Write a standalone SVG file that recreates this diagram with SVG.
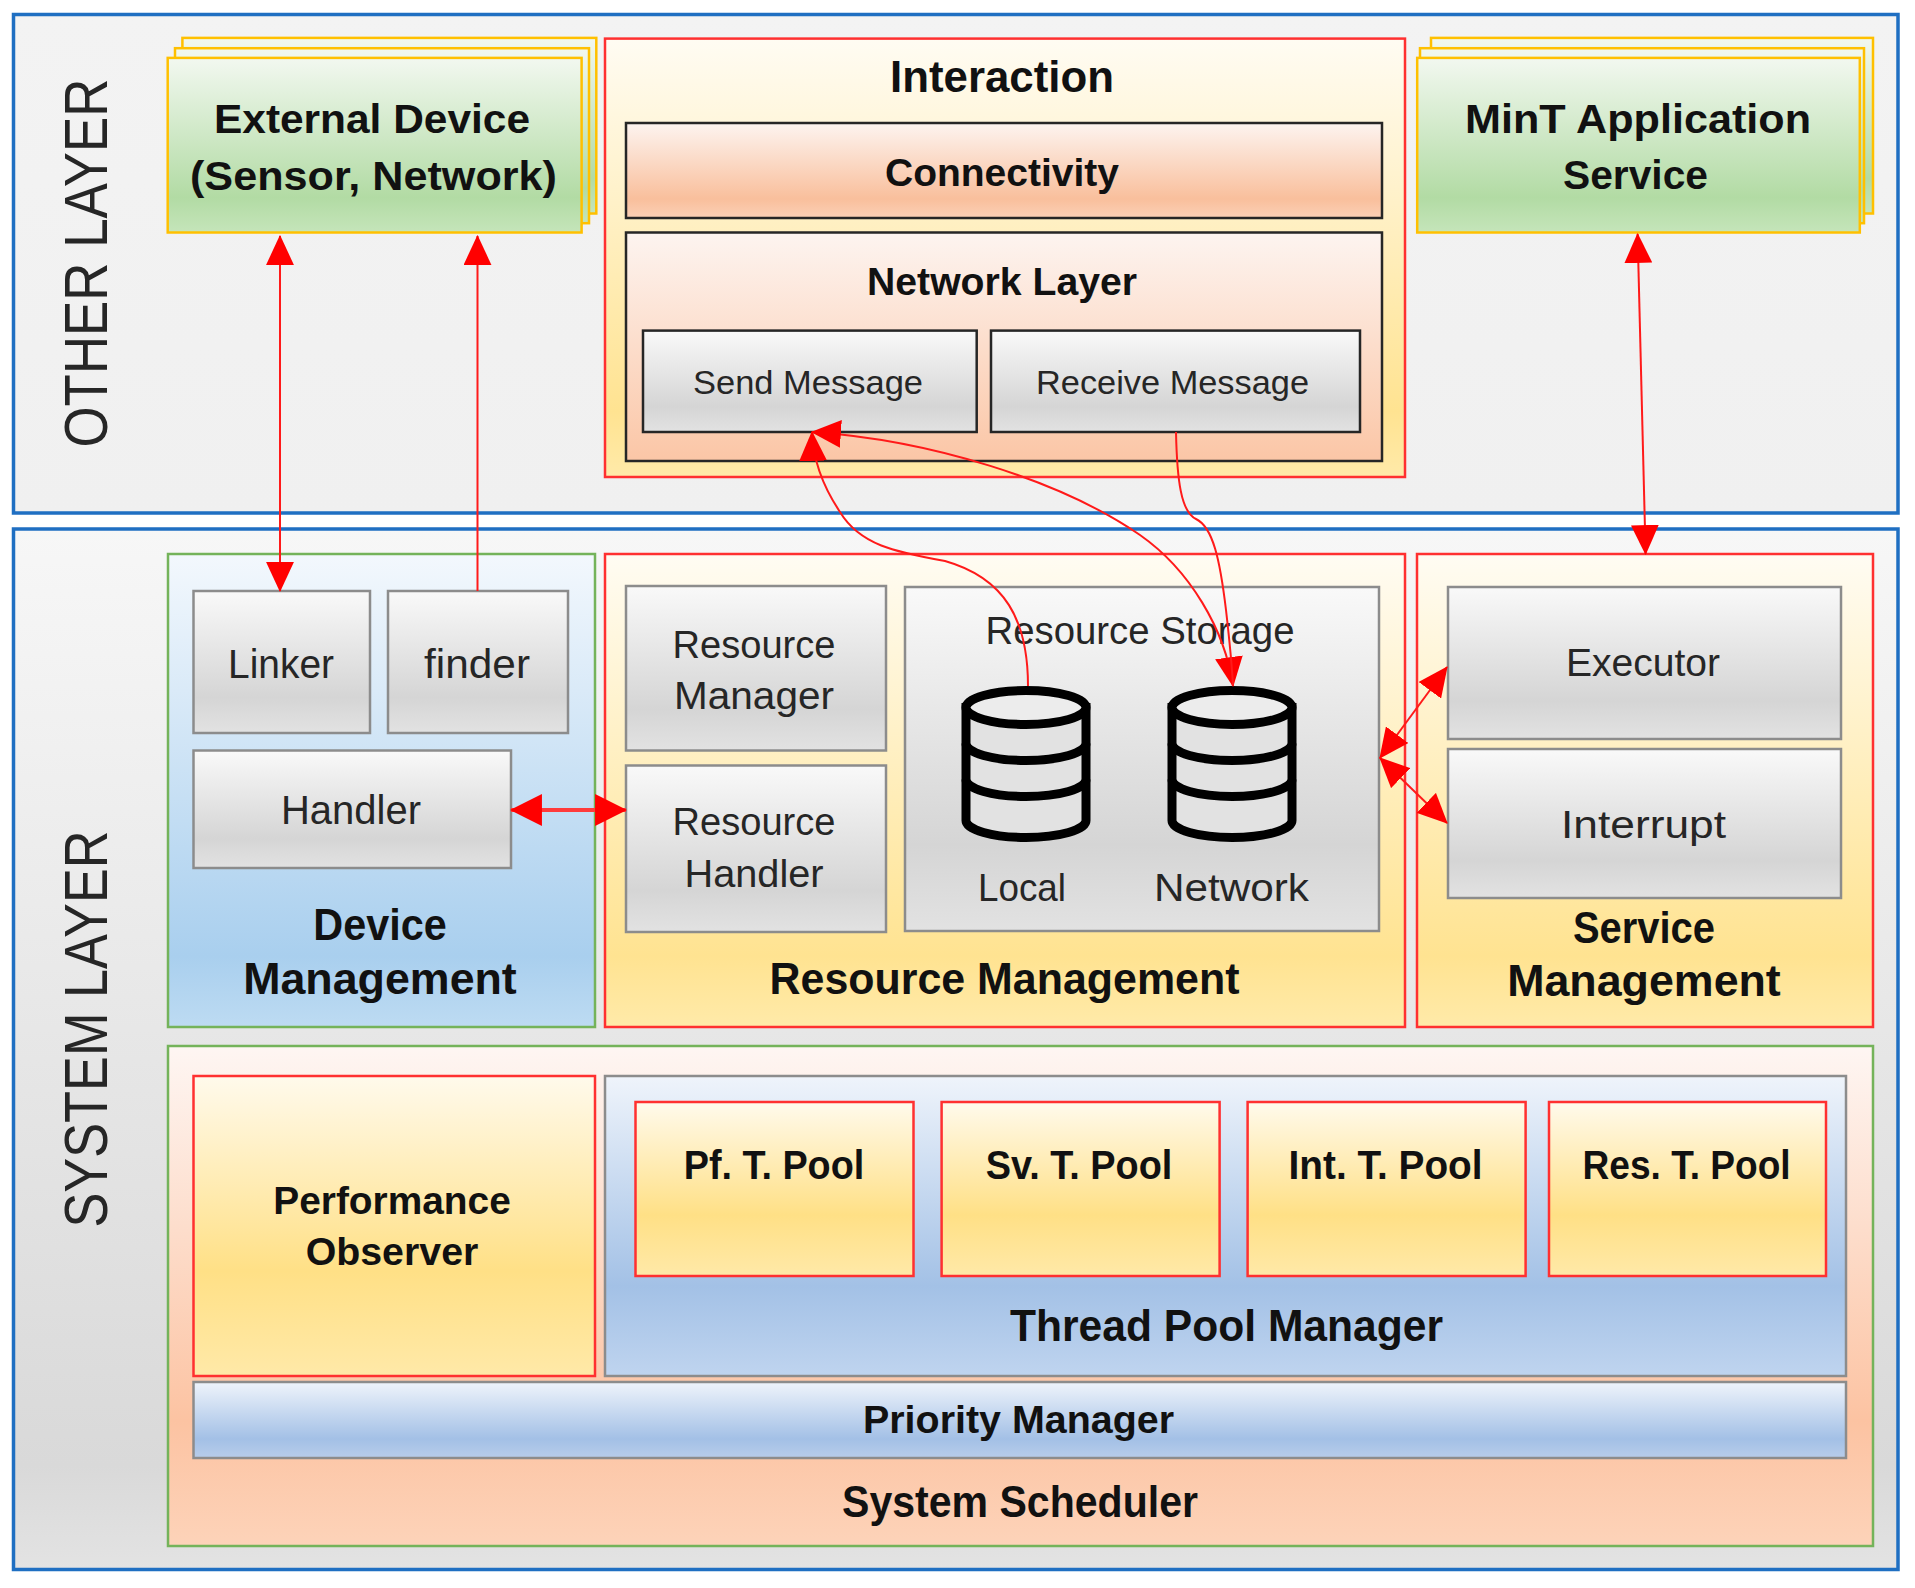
<svg xmlns="http://www.w3.org/2000/svg" width="1915" height="1588" viewBox="0 0 1915 1588">
<defs>
<style>
.t{font-family:"Liberation Sans",Arial,sans-serif;text-anchor:middle}
.b{font-weight:bold;fill:#111}
.r{fill:#262626}
.lay{stroke:#1f6fc2;stroke-width:3.5}
.red{stroke:#ff3030;stroke-width:2.5}
.grn{stroke:#74b35a;stroke-width:2.5}
.gld{stroke:#ffc000;stroke-width:2.5}
.gry{stroke:#8c8c8c;stroke-width:2.5}
.dk{stroke:#262626;stroke-width:2.5}
.con{fill:none;stroke:#ff1a1a;stroke-width:2}
</style>
<linearGradient id="gOther" x1="0" y1="0" x2="0" y2="1"><stop offset="0" stop-color="#f3f3f3"/><stop offset="1" stop-color="#f0f0f0"/></linearGradient>
<linearGradient id="gSys" x1="0" y1="0" x2="0" y2="1"><stop offset="0" stop-color="#f7f7f7"/><stop offset="0.9" stop-color="#d9d9d9"/><stop offset="1" stop-color="#e3e3e3"/></linearGradient>
<linearGradient id="gGreen" x1="0" y1="0" x2="0" y2="1"><stop offset="0" stop-color="#f2f8f0"/><stop offset="0.8" stop-color="#b2dba4"/><stop offset="1" stop-color="#c5e5ba"/></linearGradient>
<linearGradient id="gYel" x1="0" y1="0" x2="0" y2="1"><stop offset="0" stop-color="#fffcf3"/><stop offset="0.85" stop-color="#ffe391"/><stop offset="1" stop-color="#ffeaa9"/></linearGradient>
<linearGradient id="gConn" x1="0" y1="0" x2="0" y2="1"><stop offset="0" stop-color="#fdf4f0"/><stop offset="0.8" stop-color="#f9bf9c"/><stop offset="1" stop-color="#fbd0b6"/></linearGradient>
<linearGradient id="gNet" x1="0" y1="0" x2="0" y2="1"><stop offset="0" stop-color="#fdf4f0"/><stop offset="1" stop-color="#fbc6a6"/></linearGradient>
<linearGradient id="gGray" x1="0" y1="0" x2="0" y2="1"><stop offset="0" stop-color="#f9f9f9"/><stop offset="0.75" stop-color="#d5d5d5"/><stop offset="1" stop-color="#e2e2e2"/></linearGradient>
<linearGradient id="gBlue" x1="0" y1="0" x2="0" y2="1"><stop offset="0" stop-color="#f3f8fd"/><stop offset="0.85" stop-color="#a9cfee"/><stop offset="1" stop-color="#bddbf2"/></linearGradient>
<linearGradient id="gSched" x1="0" y1="0" x2="0" y2="1"><stop offset="0" stop-color="#fef6f3"/><stop offset="0.75" stop-color="#fcc3a2"/><stop offset="1" stop-color="#fdd3b9"/></linearGradient>
<linearGradient id="gTpm" x1="0" y1="0" x2="0" y2="1"><stop offset="0" stop-color="#eff4fb"/><stop offset="0.7" stop-color="#a3c1e6"/><stop offset="1" stop-color="#bfd4ef"/></linearGradient>
<linearGradient id="gPrio" x1="0" y1="0" x2="0" y2="1"><stop offset="0" stop-color="#eff4fb"/><stop offset="0.75" stop-color="#a3c0e6"/><stop offset="1" stop-color="#b8cdea"/></linearGradient>
<linearGradient id="gPool" x1="0" y1="0" x2="0" y2="1"><stop offset="0" stop-color="#fffaec"/><stop offset="0.65" stop-color="#ffe086"/><stop offset="1" stop-color="#ffe9a8"/></linearGradient>
<marker id="arr" markerUnits="userSpaceOnUse" markerWidth="30" markerHeight="28" viewBox="0 0 28 26" refX="27" refY="13" orient="auto-start-reverse"><path d="M0,0 L28,13 L0,26 z" fill="#ff0000"/></marker>
<marker id="arrB" markerUnits="userSpaceOnUse" markerWidth="32" markerHeight="32" viewBox="0 0 30 30" refX="29" refY="15" orient="auto-start-reverse"><path d="M0,0 L30,15 L0,30 z" fill="#ff0000"/></marker>
<g id="db">
<path d="M-60,0 L-60,113 A60,17 0 0 0 60,113 L60,0 z" fill="#e2e2e2" stroke="#000" stroke-width="9"/>
<ellipse cx="0" cy="0" rx="60" ry="17" fill="#ececec" stroke="#000" stroke-width="9"/>
<path d="M-60,36 A60,17 0 0 0 60,36 M-60,72 A60,17 0 0 0 60,72" fill="none" stroke="#000" stroke-width="9"/>
</g>
</defs>

<g id="other-layer">
<rect x="13.5" y="14.5" width="1884.5" height="498.5" fill="url(#gOther)" class="lay"/>
<text class="t r" font-size="62" transform="translate(107,263) rotate(-90)" textLength="369" lengthAdjust="spacingAndGlyphs">OTHER LAYER</text>
</g>
<g id="system-layer">
<rect x="13.5" y="529" width="1884.5" height="1040.5" fill="url(#gSys)" class="lay"/>
<text class="t r" font-size="62" transform="translate(107,1029) rotate(-90)" textLength="397" lengthAdjust="spacingAndGlyphs">SYSTEM LAYER</text>
</g>

<g id="external-device">
<rect x="182.4" y="37.9" width="413.9" height="175.6" fill="url(#gGreen)" class="gld"/>
<rect x="175" y="48.2" width="414" height="175" fill="url(#gGreen)" class="gld"/>
<rect x="167.7" y="57.9" width="413.9" height="174.6" fill="url(#gGreen)" class="gld"/>
<text class="t b" font-size="41" x="372" y="132.6" textLength="316" lengthAdjust="spacingAndGlyphs">External Device</text>
<text class="t b" font-size="41" x="373.5" y="189.5" textLength="367" lengthAdjust="spacingAndGlyphs">(Sensor, Network)</text>
</g>

<g id="mint-service">
<rect x="1431" y="37.9" width="442" height="175.6" fill="url(#gGreen)" class="gld"/>
<rect x="1420" y="48.2" width="444" height="175" fill="url(#gGreen)" class="gld"/>
<rect x="1417.2" y="57.9" width="442.6" height="174.6" fill="url(#gGreen)" class="gld"/>
<text class="t b" font-size="41" x="1638" y="132.6" textLength="346" lengthAdjust="spacingAndGlyphs">MinT Application</text>
<text class="t b" font-size="41" x="1635.5" y="189.4" textLength="145" lengthAdjust="spacingAndGlyphs">Service</text>
</g>

<g id="interaction">
<rect x="605" y="38.6" width="800" height="438.4" fill="url(#gYel)" class="red"/>
<text class="t b" font-size="45" x="1002" y="91.6" textLength="224" lengthAdjust="spacingAndGlyphs">Interaction</text>
</g>
<g id="connectivity">
<rect x="626" y="123" width="756" height="95" fill="url(#gConn)" class="dk"/>
<text class="t b" font-size="39" x="1002" y="186" textLength="234" lengthAdjust="spacingAndGlyphs">Connectivity</text>
</g>
<g id="network-layer">
<rect x="626" y="232.5" width="756" height="228.5" fill="url(#gNet)" class="dk"/>
<text class="t b" font-size="38" x="1002" y="294.5" textLength="270" lengthAdjust="spacingAndGlyphs">Network Layer</text>
</g>
<g id="send-message">
<rect x="643" y="330.6" width="333.7" height="101.4" fill="url(#gGray)" class="dk"/>
<text class="t r" font-size="34" x="808" y="394" textLength="230" lengthAdjust="spacingAndGlyphs">Send Message</text>
</g>
<g id="receive-message">
<rect x="991" y="330.6" width="369" height="101.4" fill="url(#gGray)" class="dk"/>
<text class="t r" font-size="34" x="1172.5" y="394" textLength="273" lengthAdjust="spacingAndGlyphs">Receive Message</text>
</g>

<g id="device-management">
<rect x="168" y="554" width="427" height="473" fill="url(#gBlue)" class="grn"/>
<text class="t b" font-size="44" x="380" y="939.5" textLength="133.5" lengthAdjust="spacingAndGlyphs">Device</text>
<text class="t b" font-size="44" x="380" y="994" textLength="273.6" lengthAdjust="spacingAndGlyphs">Management</text>
</g>
<g id="linker">
<rect x="193.5" y="591" width="176.5" height="142" fill="url(#gGray)" class="gry"/>
<text class="t r" font-size="41" x="281" y="677.6" textLength="106" lengthAdjust="spacingAndGlyphs">Linker</text>
</g>
<g id="finder">
<rect x="388" y="591" width="180" height="142" fill="url(#gGray)" class="gry"/>
<text class="t r" font-size="41" x="477" y="677.6" textLength="106" lengthAdjust="spacingAndGlyphs">finder</text>
</g>
<g id="handler">
<rect x="193.5" y="750.5" width="317.5" height="117.5" fill="url(#gGray)" class="gry"/>
<text class="t r" font-size="40" x="351" y="823.5" textLength="140" lengthAdjust="spacingAndGlyphs">Handler</text>
</g>

<g id="resource-management">
<rect x="605" y="554" width="800" height="473" fill="url(#gYel)" class="red"/>
<text class="t b" font-size="44" x="1004.5" y="994" textLength="470" lengthAdjust="spacingAndGlyphs">Resource Management</text>
</g>
<g id="resource-manager">
<rect x="626" y="586" width="260" height="164.5" fill="url(#gGray)" class="gry"/>
<text class="t r" font-size="38" x="754" y="657.7" textLength="163" lengthAdjust="spacingAndGlyphs">Resource</text>
<text class="t r" font-size="38" x="754" y="709" textLength="160" lengthAdjust="spacingAndGlyphs">Manager</text>
</g>
<g id="resource-handler">
<rect x="626" y="765.5" width="260" height="166.5" fill="url(#gGray)" class="gry"/>
<text class="t r" font-size="38" x="754" y="835" textLength="163" lengthAdjust="spacingAndGlyphs">Resource</text>
<text class="t r" font-size="38" x="754" y="886.5" textLength="139" lengthAdjust="spacingAndGlyphs">Handler</text>
</g>
<g id="resource-storage">
<rect x="905" y="587" width="474" height="344" fill="url(#gGray)" class="gry"/>
<text class="t r" font-size="39" x="1140" y="644" textLength="309" lengthAdjust="spacingAndGlyphs">Resource Storage</text>
</g>
<g id="local-db">
<use href="#db" transform="translate(1026,707.5)"/>
<text class="t r" font-size="39" x="1022" y="901" textLength="88" lengthAdjust="spacingAndGlyphs">Local</text>
</g>
<g id="network-db">
<use href="#db" transform="translate(1232,707.5)"/>
<text class="t r" font-size="39" x="1231.5" y="901" textLength="155" lengthAdjust="spacingAndGlyphs">Network</text>
</g>

<g id="service-management">
<rect x="1417" y="554" width="456" height="473" fill="url(#gYel)" class="red"/>
<text class="t b" font-size="44" x="1644" y="943" textLength="142" lengthAdjust="spacingAndGlyphs">Service</text>
<text class="t b" font-size="44" x="1644" y="996" textLength="273.6" lengthAdjust="spacingAndGlyphs">Management</text>
</g>
<g id="executor">
<rect x="1448" y="587" width="393" height="152" fill="url(#gGray)" class="gry"/>
<text class="t r" font-size="38" x="1643" y="676" textLength="154" lengthAdjust="spacingAndGlyphs">Executor</text>
</g>
<g id="interrupt">
<rect x="1448" y="749" width="393" height="149" fill="url(#gGray)" class="gry"/>
<text class="t r" font-size="38" x="1643.5" y="838" textLength="165" lengthAdjust="spacingAndGlyphs">Interrupt</text>
</g>

<g id="system-scheduler">
<rect x="168" y="1046" width="1705" height="500" fill="url(#gSched)" class="grn"/>
<text class="t b" font-size="45" x="1020" y="1517" textLength="356" lengthAdjust="spacingAndGlyphs">System Scheduler</text>
</g>
<g id="performance-observer">
<rect x="193.5" y="1076" width="401.5" height="300" fill="url(#gPool)" class="red"/>
<text class="t b" font-size="38" x="392" y="1213.7" textLength="237.5" lengthAdjust="spacingAndGlyphs">Performance</text>
<text class="t b" font-size="38" x="392" y="1265" textLength="172.6" lengthAdjust="spacingAndGlyphs">Observer</text>
</g>
<g id="thread-pool-manager">
<rect x="605" y="1076" width="1241" height="300" fill="url(#gTpm)" class="gry"/>
<text class="t b" font-size="44" x="1226.5" y="1340.6" textLength="433" lengthAdjust="spacingAndGlyphs">Thread Pool Manager</text>
</g>
<g id="pf-pool">
<rect x="635.5" y="1102" width="278" height="174" fill="url(#gPool)" class="red"/>
<text class="t b" font-size="41" x="774" y="1178.7" textLength="180.6" lengthAdjust="spacingAndGlyphs">Pf. T. Pool</text>
</g>
<g id="sv-pool">
<rect x="941.6" y="1102" width="278" height="174" fill="url(#gPool)" class="red"/>
<text class="t b" font-size="41" x="1079" y="1178.7" textLength="186.7" lengthAdjust="spacingAndGlyphs">Sv. T. Pool</text>
</g>
<g id="int-pool">
<rect x="1247.6" y="1102" width="278" height="174" fill="url(#gPool)" class="red"/>
<text class="t b" font-size="41" x="1385.6" y="1178.7" textLength="194" lengthAdjust="spacingAndGlyphs">Int. T. Pool</text>
</g>
<g id="res-pool">
<rect x="1549" y="1102" width="277" height="174" fill="url(#gPool)" class="red"/>
<text class="t b" font-size="41" x="1686.6" y="1178.7" textLength="208" lengthAdjust="spacingAndGlyphs">Res. T. Pool</text>
</g>
<g id="priority-manager">
<rect x="193.5" y="1382" width="1652.5" height="76" fill="url(#gPrio)" class="gry"/>
<text class="t b" font-size="39" x="1018.5" y="1433" textLength="311" lengthAdjust="spacingAndGlyphs">Priority Manager</text>
</g>

<g id="connectors">
<path class="con" d="M280,236 L280,591" marker-start="url(#arr)" marker-end="url(#arr)"/>
<path class="con" d="M477.5,591 L477.5,236" marker-end="url(#arr)"/>
<path class="con" d="M1637.6,234 L1645.6,554" marker-start="url(#arr)" marker-end="url(#arr)"/>
<path d="M511,810 L626,810" fill="none" stroke="#ff3b3b" stroke-width="4" marker-start="url(#arrB)" marker-end="url(#arrB)"/>
<path class="con" d="M1380,758 L1447,667" marker-start="url(#arr)" marker-end="url(#arr)"/>
<path class="con" d="M1380,758 L1447,823" marker-start="url(#arr)" marker-end="url(#arr)"/>
<path class="con" d="M1028,686 C1028,620 1005,578 945,561 C895,552 860,545 840,512 C822,485 813,460 812,432" marker-end="url(#arr)"/>
<path class="con" d="M812,432 C930,440 1060,480 1140,535 C1190,570 1225,630 1233,686" marker-start="url(#arr)" marker-end="url(#arr)"/>
<path class="con" d="M1176,432 C1177,480 1181,512 1196,519 C1213,527 1220,560 1226,610 C1230,645 1232,665 1233,686"/>
</g>
</svg>
